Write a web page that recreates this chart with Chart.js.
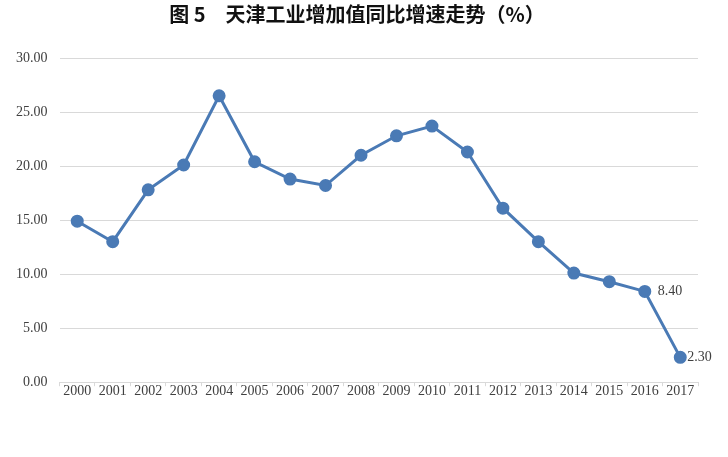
<!DOCTYPE html>
<html lang="zh">
<head>
    <meta charset="UTF-8">
    <title>天津工业增加值同比增速走势</title>
    <script src="https://cdn.jsdelivr.net/npm/chart.js"></script>
    <style>
        html, body { margin: 0; padding: 0; background: #fff; }
        #wrap { width: 728px; height: 457px; position: relative; }
    </style>
</head>
<body>
    <div id="wrap"><canvas id="chart"></canvas></div>

    <script>
        const years = ['2000', '2001', '2002', '2003', '2004', '2005', '2006', '2007', '2008',
                       '2009', '2010', '2011', '2012', '2013', '2014', '2015', '2016', '2017'];
        const growth = [14.9, 13.0, 17.8, 20.1, 26.5, 20.4, 18.8, 18.2, 21.0,
                        22.8, 23.7, 21.3, 16.1, 13.0, 10.1, 9.3, 8.4, 2.3];
        const labelledYears = ['2016', '2017'];
        const titleText = '图 5　天津工业增加值同比增速走势（%）';

        // title drawn a little right of the canvas centre, like the original
        const titlePlugin = {
            id: 'titlePlugin',
            afterDraw(chart) {
                const ctx = chart.ctx;
                ctx.save();
                ctx.font = 'bold 20px "Noto Sans CJK SC"';
                ctx.fillStyle = '#111';
                ctx.textAlign = 'center';
                ctx.textBaseline = 'middle';
                ctx.fillText(titleText, chart.width / 2 - 7, 14);
                ctx.restore();
            }
        };

        // labels to the right of the last two points
        const pointLabels = {
            id: 'pointLabels',
            afterDatasetsDraw(chart) {
                const ctx = chart.ctx;
                const meta = chart.getDatasetMeta(0);
                const gap = { '2016': 13, '2017': 7 };
                ctx.save();
                ctx.font = '14px "Liberation Serif"';
                ctx.fillStyle = '#404040';
                ctx.textBaseline = 'middle';
                ctx.textAlign = 'left';
                years.forEach((y, i) => {
                    if (!labelledYears.includes(y)) return;
                    const p = meta.data[i];
                    ctx.fillText(growth[i].toFixed(2), p.x + gap[y], p.y);
                });
                ctx.restore();
            }
        };

        new Chart(document.getElementById('chart'), {
            type: 'line',
            data: {
                labels: years,
                datasets: [{
                    data: growth,
                    borderColor: '#4a7ab5',
                    backgroundColor: '#4a7ab5',
                    borderWidth: 3,
                    pointRadius: 5,
                    pointHoverRadius: 5,
                    tension: 0
                }]
            },
            options: {
                responsive: true,
                maintainAspectRatio: false,
                animation: false,
                layout: { padding: { left: 4, right: 30, top: 58, bottom: 60 } },
                plugins: {
                    legend: { display: false },
                    tooltip: { enabled: false },
                    title: { display: false }
                },
                scales: {
                    x: {
                        offset: true,
                        grid: { offset: true, drawOnChartArea: false, color: '#d9d9d9', tickLength: 4 },
                        border: { color: '#d9d9d9' },
                        ticks: {
                            color: '#404040',
                            font: { family: '"Liberation Serif"', size: 14 },
                            maxRotation: 0,
                            autoSkip: false,
                            padding: -3
                        }
                    },
                    y: {
                        min: 0,
                        max: 30,
                        grid: { color: '#d9d9d9', drawTicks: false },
                        border: { display: false },
                        ticks: {
                            stepSize: 5,
                            color: '#404040',
                            font: { family: '"Liberation Serif"', size: 14 },
                            padding: 12,
                            callback: v => v.toFixed(2)
                        }
                    }
                }
            },
            plugins: [pointLabels, titlePlugin]
        });
    </script>
</body>
</html>
